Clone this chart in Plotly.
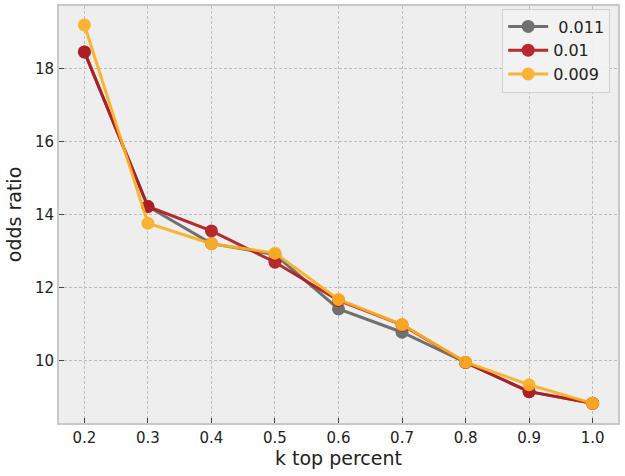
import plotly.graph_objects as go

k_top = [0.2, 0.3, 0.4, 0.5, 0.6, 0.7, 0.8, 0.9, 1.0]
series_names = [" 0.011", "0.01", "0.009"]
odds_0011 = [18.46, 14.22, 13.20, 12.90, 11.41, 10.77, 9.94, 9.14, 8.82]
odds_001 = [18.46, 14.22, 13.55, 12.69, 11.64, 10.97, 9.94, 9.14, 8.82]
odds_0009 = [19.20, 13.76, 13.20, 12.94, 11.67, 10.98, 9.95, 9.33, 8.82]
colors = ["#666666", "#b2191e", "#fdb022"]

fig = go.Figure()
for name, vals, col in zip(series_names, [odds_0011, odds_001, odds_0009], colors):
    fig.add_trace(go.Scatter(
        x=k_top, y=vals, name=name, mode="lines+markers",
        line=dict(color=col, width=3), marker=dict(color=col, size=13),
        opacity=0.92,
    ))

axis_common = dict(
    showgrid=True, gridcolor="#bdbdbd", griddash="3px,2px", gridwidth=1,
    zeroline=False, showline=True, linecolor="#c8c8c8", linewidth=2, mirror=True,
    ticks="inside", ticklen=5, tickcolor="#444444", automargin=False,
    tickfont=dict(family="DejaVu Sans", size=15, color="#222222"),
)

fig.update_layout(
    width=625, height=476,
    margin=dict(l=59, r=7, t=6, b=53),
    paper_bgcolor="white", plot_bgcolor="#eeeeee",
    font=dict(family="DejaVu Sans", color="#222222"),
    xaxis=dict(range=[0.16, 1.04], tickvals=k_top, ticktext=[f"{v:.1f}" for v in k_top],
               title=dict(text="k top percent", font=dict(size=19), standoff=4), **axis_common),
    yaxis=dict(range=[8.28, 19.72], tickvals=[10, 12, 14, 16, 18],
               title=dict(text="odds ratio", font=dict(size=19), standoff=8), **axis_common),
    legend=dict(x=0.986, y=0.994, xanchor="right", yanchor="top",
                bgcolor="rgba(242,242,242,0.9)", bordercolor="#d0d0d0", borderwidth=1,
                tracegroupgap=0, itemwidth=40,
                font=dict(size=16, family="DejaVu Sans", color="#222222")),
    showlegend=True,
)

fig.write_html("out.html", config={"displayModeBar": False},
               post_script="document.body.style.margin='0';document.body.style.padding='0';")
